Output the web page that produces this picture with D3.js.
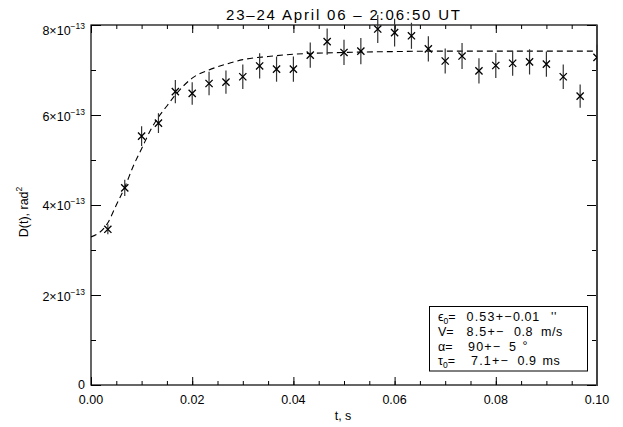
<!DOCTYPE html>
<html>
<head>
<meta charset="utf-8">
<script src="https://cdn.jsdelivr.net/npm/d3@7"></script>
<style>
  html, body { margin: 0; padding: 0; background: #fff; }
  svg { display: block; }
  text { font-family: "Liberation Sans", Arial, Helvetica, sans-serif; fill: #000; }
</style>
</head>
<body>
<svg id="chart" width="623" height="427"></svg>
<script>
// ---------------- data ----------------
const titleText = "23\u201324 April 06 \u2013 2:06:50 UT";
const xAxisTitle = "t, s";
const yAxisTitle = "D(t), rad";
// sample times (s)
const times = [0.00333, 0.00667, 0.01, 0.01333, 0.01667, 0.02, 0.02333, 0.02667, 0.03, 0.03333,
               0.03667, 0.04, 0.04333, 0.04667, 0.05, 0.05333, 0.05667, 0.06, 0.06333, 0.06667,
               0.07, 0.07333, 0.07667, 0.08, 0.08333, 0.08667, 0.09, 0.09333, 0.09667, 0.1];
// D(t) in units of 1e-13 rad^2
const values = [3.46, 4.38, 5.53, 5.82, 6.52, 6.48, 6.70, 6.73, 6.85, 7.09,
                7.02, 7.02, 7.33, 7.63, 7.39, 7.42, 7.91, 7.83, 7.76, 7.47,
                7.20, 7.31, 6.98, 7.10, 7.15, 7.18, 7.13, 6.85, 6.42, 7.28];
const errors = [0.11, 0.18, 0.22, 0.22, 0.26, 0.25, 0.26, 0.26, 0.27, 0.28,
                0.28, 0.28, 0.28, 0.29, 0.28, 0.29, 0.31, 0.31, 0.29, 0.28,
                0.28, 0.29, 0.28, 0.28, 0.28, 0.28, 0.28, 0.27, 0.26, 0.28];
// fitted model curve
const fitT = [0, 0.0033, 0.005, 0.0067, 0.0083, 0.01, 0.0117, 0.0133, 0.015, 0.0167,
              0.0183, 0.02, 0.0233, 0.0267, 0.03, 0.035, 0.04, 0.05, 0.06, 0.07, 0.08, 0.1];
const fitV = [3.29, 3.60, 4.00, 4.40, 4.85, 5.25, 5.65, 5.95, 6.20, 6.45,
              6.65, 6.82, 7.00, 7.13, 7.23, 7.30, 7.35, 7.39, 7.41, 7.42, 7.42, 7.42];
const xMajorTicks = [0, 0.02, 0.04, 0.06, 0.08, 0.10];
const xTickLabels = ["0.00", "0.02", "0.04", "0.06", "0.08", "0.10"];
const yMajorTicks = [0, 2, 4, 6, 8];
const yTickMantissa = ["0", "2\u00d710", "4\u00d710", "6\u00d710", "8\u00d710"];
const yTickExponent = ["", "\u221213", "\u221213", "\u221213", "\u221213"];
// legend (fit parameters)
const legendNames = ["\u03f5", "V", "\u03b1", "\u03c4"];
const legendSubs = ["0", "", "", "0"];
const legendVals = ["0.53+\u2212", "8.5+\u2212", "90+\u2212", "7.1+\u2212"];
const legendErrs = ["0.01", "0.8", "5", "0.9"];
const legendUnits = ["''", "m/s", "\u00b0", "ms"];

// ---------------- layout ----------------
const L = 91, R = 597, T = 25, B = 385;
const svg = d3.select("#chart");
const x = d3.scaleLinear().domain([0, 0.1]).range([L, R]);
const y = d3.scaleLinear().domain([0, 8]).range([B, T]);

// clip
svg.append("defs").append("clipPath").attr("id", "plotclip")
  .append("rect").attr("x", L).attr("y", T).attr("width", R - L).attr("height", B - T);

// axes (ticks inward)
const xMinor = d3.range(0, 0.1001, 0.005);
const yMinor = d3.range(0, 8.001, 1);
function styleAxis(g) {
  g.selectAll(".domain").remove();
  g.selectAll("line").attr("stroke", "#000").attr("stroke-width", 1);
  g.selectAll("text").remove();
}
svg.append("g").attr("transform", `translate(0,${B})`)
  .call(d3.axisBottom(x).tickValues(xMinor).tickSize(-4)).call(styleAxis);
svg.append("g").attr("transform", `translate(0,${B})`)
  .call(d3.axisBottom(x).tickValues(xMajorTicks).tickSize(-8)).call(styleAxis);
svg.append("g").attr("transform", `translate(0,${T})`)
  .call(d3.axisTop(x).tickValues(xMinor).tickSize(-4)).call(styleAxis);
svg.append("g").attr("transform", `translate(0,${T})`)
  .call(d3.axisTop(x).tickValues(xMajorTicks).tickSize(-8)).call(styleAxis);
svg.append("g").attr("transform", `translate(${L},0)`)
  .call(d3.axisLeft(y).tickValues(yMinor).tickSize(-5)).call(styleAxis);
svg.append("g").attr("transform", `translate(${L},0)`)
  .call(d3.axisLeft(y).tickValues(yMajorTicks).tickSize(-10)).call(styleAxis);
svg.append("g").attr("transform", `translate(${R},0)`)
  .call(d3.axisRight(y).tickValues(yMinor).tickSize(-5)).call(styleAxis);
svg.append("g").attr("transform", `translate(${R},0)`)
  .call(d3.axisRight(y).tickValues(yMajorTicks).tickSize(-10)).call(styleAxis);

// frame
svg.append("rect").attr("x", L).attr("y", T).attr("width", R - L).attr("height", B - T)
  .attr("fill", "none").attr("stroke", "#000").attr("stroke-width", 1.2);
svg.append("line").attr("x1", R).attr("x2", R).attr("y1", T).attr("y2", B + 1)
  .attr("stroke", "#444").attr("stroke-width", 2);

// x tick labels
svg.append("g").selectAll("text").data(xMajorTicks).join("text")
  .attr("x", d => x(d)).attr("y", 404)
  .attr("text-anchor", "middle").attr("font-size", 12.5)
  .text((d, i) => xTickLabels[i]);

// y tick labels with superscript
const yOffsets = [-1, 1, 0, 1.5, 5];
const yl = svg.append("g").selectAll("text").data(yMajorTicks).join("text")
  .attr("x", 85).attr("y", (d, i) => y(d) + 4.5 + yOffsets[i])
  .attr("text-anchor", "end").attr("font-size", 12.5);
yl.append("tspan").text((d, i) => yTickMantissa[i]);
yl.append("tspan").attr("font-size", 8.5).attr("dy", -6).text((d, i) => yTickExponent[i]);

// axis titles
svg.append("text").attr("x", 343).attr("y", 420).attr("text-anchor", "middle")
  .attr("font-size", 12.5).text(xAxisTitle);
const yt = svg.append("text").attr("transform", "translate(28,212) rotate(-90)")
  .attr("text-anchor", "middle").attr("font-size", 12.5);
yt.append("tspan").text(yAxisTitle);
yt.append("tspan").attr("font-size", 8.5).attr("dy", -6).text("2");

// title
svg.append("text").attr("x", 226).attr("y", 19.5).attr("font-size", 15)
  .attr("textLength", 234).attr("lengthAdjust", "spacing").text(titleText);

// fit curve (dashed)
const line = d3.line().x((d, i) => x(fitT[i])).y(d => y(d)).curve(d3.curveMonotoneX);
svg.append("path").attr("d", line(fitV)).attr("clip-path", "url(#plotclip)")
  .attr("fill", "none").attr("stroke", "#000").attr("stroke-width", 1.1)
  .attr("stroke-dasharray", "6,4");

// error bars
svg.append("g").selectAll("line").data(values).join("line")
  .attr("x1", (d, i) => x(times[i])).attr("x2", (d, i) => x(times[i]))
  .attr("y1", (d, i) => y(d - errors[i])).attr("y2", (d, i) => y(d + errors[i]))
  .attr("stroke", "#333").attr("stroke-width", 1.2);

// X markers
const s = 3.6;
const mk = svg.append("g").attr("clip-path", "url(#plotclip)");
mk.selectAll("path").data(values).join("path")
  .attr("d", (d, i) => {
    const cx = x(times[i]), cy = y(d);
    return `M${cx - s},${cy - s}L${cx + s},${cy + s}M${cx - s},${cy + s}L${cx + s},${cy - s}`;
  })
  .attr("stroke", "#000").attr("stroke-width", 1.3).attr("fill", "none");

// legend box
svg.append("rect").attr("x", 429.5).attr("y", 306.5).attr("width", 158).attr("height", 64.5)
  .attr("fill", "#fff").attr("stroke", "#000").attr("stroke-width", 1);
const rowY = [321, 336, 350.5, 365];
const valX = [466.5, 466.5, 468, 471];
const errX = [513, 514, 509, 517.5];
const unitX = [551, 541, 522.5, 542.5];
const lg = svg.append("g").attr("font-size", 12.5);
legendNames.forEach((nm, i) => {
  const t = lg.append("text").attr("x", 438).attr("y", rowY[i]).attr("font-size", 12.5);
  t.append("tspan").text(nm);
  if (legendSubs[i]) t.append("tspan").attr("font-size", 8.5).attr("dy", 3).text(legendSubs[i]);
  t.append("tspan").attr("dy", legendSubs[i] ? -3 : 0).text("=");
  lg.append("text").attr("x", valX[i]).attr("y", rowY[i]).attr("letter-spacing", 1.2).text(legendVals[i]);
  lg.append("text").attr("x", errX[i]).attr("y", rowY[i]).attr("letter-spacing", 0.6).text(legendErrs[i]);
  lg.append("text").attr("x", unitX[i]).attr("y", rowY[i] - (legendUnits[i] === "\u00b0" ? 1 : 0))
    .attr("letter-spacing", 0.6).text(legendUnits[i]);
});
</script>
</body>
</html>
